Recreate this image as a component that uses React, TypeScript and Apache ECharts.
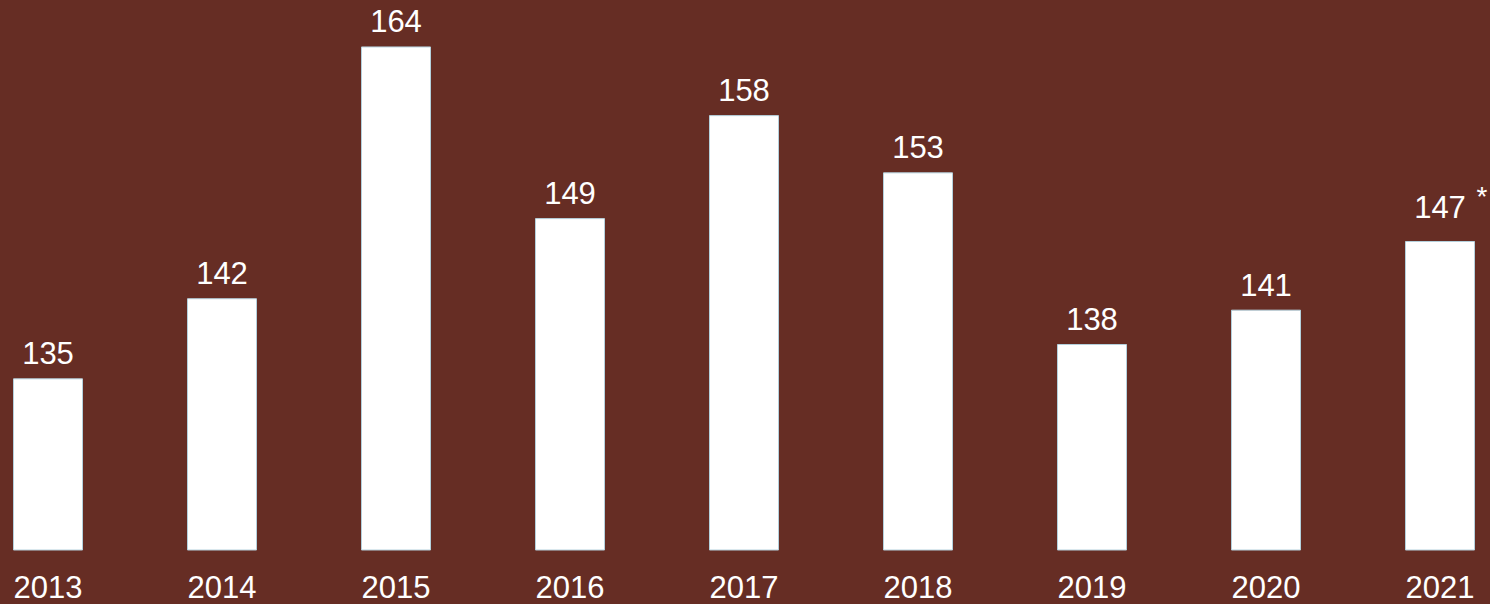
import React, { useEffect, useRef } from "react";
import * as echarts from "echarts";

const years = ["2013", "2014", "2015", "2016", "2017", "2018", "2019", "2020", "2021"];
const values = [135, 142, 164, 149, 158, 153, 138, 141, 147];
const starredIndex = 8;

const FONT = "Liberation Sans, Arial, sans-serif";

export default function App() {
  const ref = useRef<HTMLDivElement>(null);
  useEffect(() => {
    document.body.style.margin = "0";
    const chart = echarts.init(ref.current!, null, { renderer: "svg" });
    const data = values.map((v, i) =>
      i === starredIndex
        ? {
            value: v,
            label: {
              formatter: "{pad|}{n|{c}}{gap|}{s|*}",
            },
          }
        : v
    );
    chart.setOption({
      animation: false,
      backgroundColor: "#662d24",
      grid: { left: 48, right: 50, top: 35, bottom: 54, containLabel: false },
      xAxis: {
        type: "category",
        data: years,
        boundaryGap: false,
        axisLine: { show: false },
        axisTick: { show: false },
        axisLabel: {
          color: "#ffffff",
          fontSize: 31,
          fontFamily: FONT,
          margin: 22,
        },
      },
      yAxis: {
        type: "value",
        min: 120,
        max: 165,
        show: false,
        splitLine: { show: false },
      },
      series: [
        {
          type: "bar",
          data,
          barWidth: 70,
          itemStyle: { color: "#ffffff", borderColor: "#b4d0dc", borderWidth: 1 },
          label: {
            show: true,
            position: "top",
            distance: 9,
            color: "#ffffff",
            fontSize: 31,
            fontFamily: FONT,
            formatter: "{n|{c}}",
            rich: {
              n: { color: "#ffffff", fontSize: 31, fontFamily: FONT },
              pad: { width: 21 },
              gap: { width: 11 },
              s: {
                color: "#ffffff",
                fontSize: 28,
                fontFamily: FONT,
                width: 10,
                padding: [0, 0, 22, 0],
              },
            },
          },
        },
      ],
    });
    return () => chart.dispose();
  }, []);
  return <div ref={ref} style={{ position: "absolute", left: 0, top: 0, width: 1490, height: 604 }} />;
}
